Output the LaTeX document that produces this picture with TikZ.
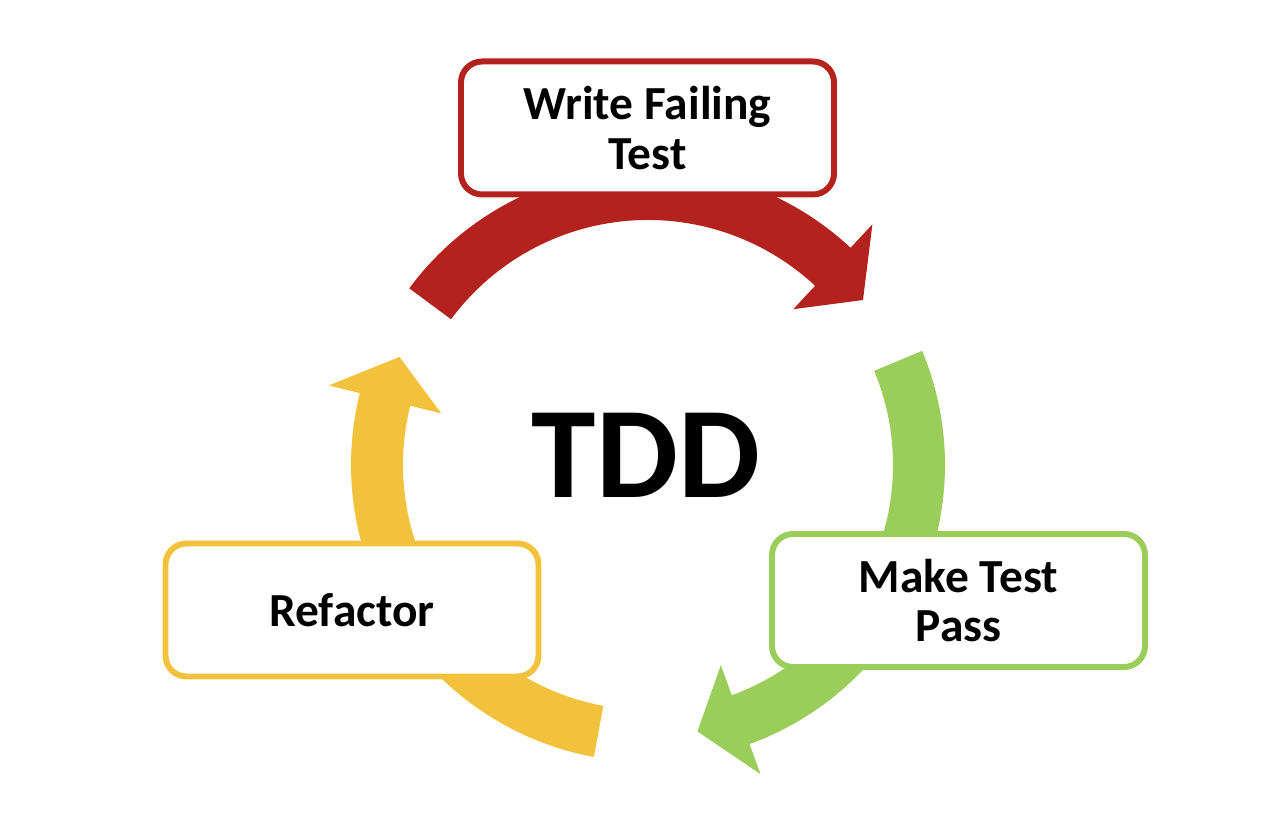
\documentclass[tikz,border=0pt]{standalone}
\usepackage{fontspec}
\setmainfont{Carlito}
\usepackage{xcolor}
\usepackage{tikz}
\usetikzlibrary{positioning,calc}
\definecolor{tddRed}{HTML}{B3221C}
\definecolor{tddGreen}{HTML}{9BCD5A}
\definecolor{tddYellow}{HTML}{F3C23D}
% one thick arc arrow round the centre (c): colour, tail angle, barb angle
\newcommand{\cyclearrow}[3]{%
  \fill[#1, shift={(c)}] (#2:5.94) arc[start angle=#2, end angle=#3, radius=5.94]
    -- (#3:6.58) -- ({#3-9.5}:5.42) -- (#3:4.26) -- (#3:4.90)
    arc[start angle=#3, end angle=#2, radius=4.90] -- cycle;}
\tikzset{
  stepbox/.style={draw=#1,fill=white,line width=3.4pt,rounded corners=0.42cm,
    minimum width=7.46cm,minimum height=2.66cm,align=center,
    font=\fontsize{27}{28}\selectfont\bfseries},
  bigtitle/.style={font=\fontsize{74}{74}\selectfont\bfseries}
}
\begin{document}
\begin{tikzpicture}
  \useasboundingbox (0,0) rectangle (25.72,16.64);
  \coordinate (c) at (12.96,7.34);
  \cyclearrow{tddRed}{143.5}{47}
  \cyclearrow{tddGreen}{22.6}{-70}
  \cyclearrow{tddYellow}{-100.5}{-194}
  \node[stepbox=tddRed] (fail) at (12.95,14.08) {Write Failing\\Test};
  \node[stepbox=tddGreen] (pass) at (19.17,4.63) {Make Test\\Pass};
  \node[stepbox=tddYellow] (refactor) at (7.04,4.44) {Refactor};
  \node[bigtitle] (tdd) at (12.92,7.54) {TDD};
\end{tikzpicture}
\end{document}
